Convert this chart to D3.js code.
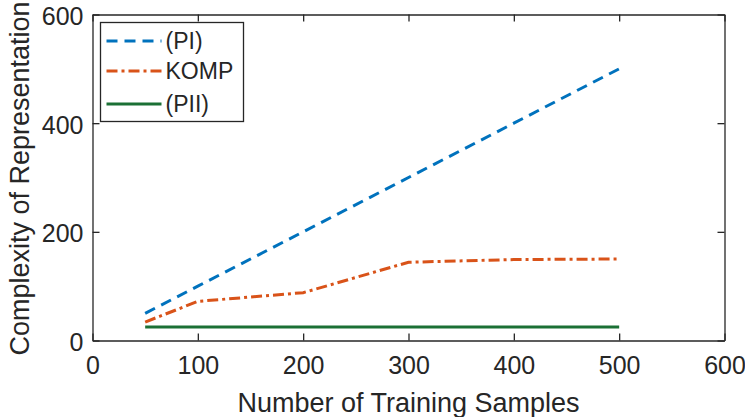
<!DOCTYPE html>
<meta charset="utf-8">
<script src="https://d3js.org/d3.v7.min.js"></script>
<style>
  body { margin: 0; background: #fff; }
  text { font-family: "Liberation Sans", Arial, Helvetica, sans-serif; fill: #262626; }
</style>
<div id="my_dataviz"></div>
<script>

// data
var samples = [50, 100, 200, 300, 400, 500];
var seriesNames = ["(PI)", "KOMP", "(PII)"];
var valuesPI = [50, 100, 200, 300, 400, 500];
var valuesKOMP = [34, 72, 88, 144, 149, 150];
var valuesPII = [25, 25, 25, 25, 25, 25];
var xTicks = [0, 100, 200, 300, 400, 500, 600];
var yTicks = [0, 200, 400, 600];

var colors = ["#0072BD", "#D95319", "#1B7035"];
var dashes = ["11,7", "11,4,3,4", null];

var W = 745, H = 417;
var margin = {top: 14.5, right: 20.5, bottom: 76.5, left: 92.5},
    width = W - margin.left - margin.right,
    height = H - margin.top - margin.bottom;

var svg = d3.select("#my_dataviz")
  .append("svg")
    .attr("width", W)
    .attr("height", H)
  .append("g")
    .attr("transform", "translate(" + margin.left + "," + margin.top + ")");

var x = d3.scaleLinear().domain([0, 600]).range([0, width]);
var y = d3.scaleLinear().domain([0, 600]).range([height, 0]);

var axisColor = "#262626";
var tickFs = 25, labelFs = 27, legendFs = 23;

// bottom / left axes with inward ticks
var xAxis = svg.append("g")
  .attr("transform", "translate(0," + height + ")")
  .call(d3.axisBottom(x).tickValues(xTicks).tickSizeInner(-7).tickSizeOuter(0).tickPadding(16));
var yAxis = svg.append("g")
  .call(d3.axisLeft(y).tickValues(yTicks).tickSizeInner(-7).tickSizeOuter(0).tickPadding(9));
// top / right axes (box)
var xTop = svg.append("g")
  .call(d3.axisTop(x).tickValues(xTicks).tickSizeInner(-7).tickSizeOuter(0).tickFormat(""));
var yRight = svg.append("g")
  .attr("transform", "translate(" + width + ",0)")
  .call(d3.axisRight(y).tickValues(yTicks).tickSizeInner(-7).tickSizeOuter(0).tickFormat(""));

svg.selectAll(".domain, .tick line")
  .attr("stroke", axisColor)
  .attr("stroke-width", 1.3);
svg.selectAll(".tick text")
  .style("font-size", tickFs + "px")
  .style("font-family", "'Liberation Sans', Arial, sans-serif")
  .attr("fill", axisColor);
yAxis.selectAll(".tick text").attr("dy", "0.4em");

// lines
var allSeries = [valuesPI, valuesKOMP, valuesPII];
var line = d3.line()
  .x(function(d, i) { return x(samples[i]); })
  .y(function(d) { return y(d); });

svg.selectAll(".myLine")
  .data(allSeries)
  .enter()
  .append("path")
    .attr("class", "myLine")
    .attr("d", function(d) { return line(d); })
    .attr("fill", "none")
    .attr("stroke", function(d, i) { return colors[i]; })
    .attr("stroke-width", 3)
    .attr("stroke-dasharray", function(d, i) { return dashes[i]; });

// axis labels
svg.append("text")
  .attr("x", width / 2)
  .attr("y", height + 71)
  .attr("text-anchor", "middle")
  .style("font-size", labelFs + "px")
  .text("Number of Training Samples");

svg.append("text")
  .attr("transform", "translate(" + (-margin.left + 29) + "," + (height / 2 + 1) + ") rotate(-90)")
  .attr("text-anchor", "middle")
  .style("font-size", labelFs + "px")
  .text("Complexity of Representation");

// legend
var legend = svg.append("g")
  .attr("transform", "translate(" + (100.5 - margin.left) + "," + (22.5 - margin.top) + ")");
legend.append("rect")
  .attr("width", 143)
  .attr("height", 99)
  .attr("fill", "#fff")
  .attr("stroke", axisColor)
  .attr("stroke-width", 1.3);

var rows = legend.selectAll(".row")
  .data(seriesNames)
  .enter()
  .append("g")
    .attr("class", "row")
    .attr("transform", function(d, i) { return "translate(0," + [18.5, 48.5, 81.5][i] + ")"; });
rows.append("line")
  .attr("x1", 6).attr("x2", 61)
  .attr("stroke", function(d, i) { return colors[i]; })
  .attr("stroke-width", 3)
  .attr("stroke-dasharray", function(d, i) { return dashes[i]; });
rows.append("text")
  .attr("x", 65)
  .attr("dy", "0.36em")
  .style("font-size", legendFs + "px")
  .text(function(d) { return d; });

</script>
